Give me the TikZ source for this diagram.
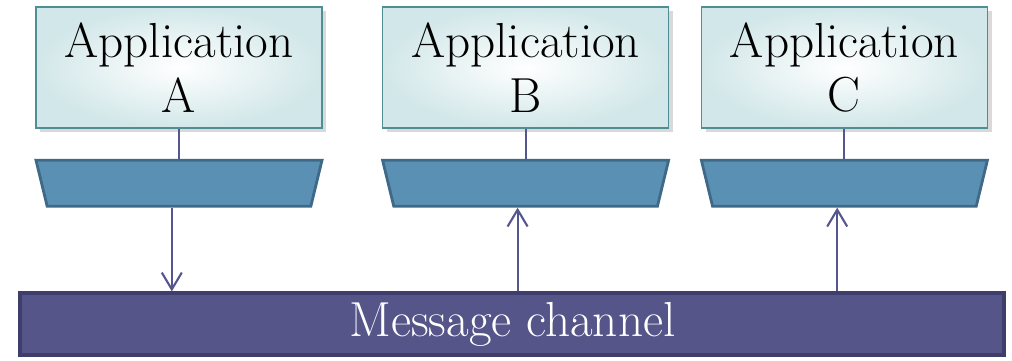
\documentclass[tikz,border=0pt]{standalone}
\usepackage{tikz}
\usetikzlibrary{positioning, arrows.meta, shapes.geometric, shadows}

\definecolor{appedge}{HTML}{4F8E94}
\definecolor{appfill}{HTML}{D2E7E9}
\definecolor{portfill}{HTML}{5B90B5}
\definecolor{portedge}{HTML}{3E6A88}
\definecolor{chanfill}{HTML}{55558A}
\definecolor{chanedge}{HTML}{3F3D6B}
\definecolor{wire}{HTML}{56568F}

\begin{document}
\begin{tikzpicture}[
            node distance=0.75cm,
            app/.style = {rectangle, draw=appedge, line width=1.2pt, inner color=white, outer color=appfill,
                          minimum width=7.15cm, minimum height=3.025cm, text width=6.8cm, align=center,
                          font=\fontsize{35}{39}\selectfont,
                          drop shadow={shadow xshift=3pt, shadow yshift=-3pt, opacity=0.3}},
            port/.style = {trapezium, shape border rotate=180, trapezium angle=40, trapezium stretches body=true,
                           draw=portedge, line width=2pt, fill=portfill, minimum width=7.15cm, minimum height=1.15cm},
            channel/.style = {rectangle, draw=chanedge, line width=2.8pt, fill=chanfill, text=white,
                              minimum width=24.6cm, minimum height=1.55cm, font=\fontsize{35}{39}\selectfont},
            link/.style = {draw=wire, line width=1.5pt},
            msg/.style = {link, -{Straight Barb[length=0.42cm, width=0.5cm, line width=1.5pt]}}
        ]
            \useasboundingbox (0,0) rectangle (25.3,-9);

            % --- applications ---
            \node [app] (appA) at (4.475,-1.6875) {Application\\A};
            \node [app] (appB) at (13.14,-1.6875) {Application\\B};
            \node [app] (appC) at (21.11,-1.6875) {Application\\C};

            % --- endpoints ---
            \node [port, below=0.75cm of appA] (portA) {};
            \node [port, below=0.75cm of appB] (portB) {};
            \node [port, below=0.75cm of appC] (portC) {};

            % --- channel ---
            \node [channel] (chan) at (12.81,-8.11) {Message channel};

            \draw [link] (appA) -- (portA);
            \draw [link] (appB) -- (portB);
            \draw [link] (appC) -- (portC);

            % A sends, B and C receive
            \draw [msg] ([xshift=-0.18cm]portA.south) -- ([xshift=-0.18cm]portA.south |- chan.north);
            \draw [msg] ([xshift=-0.2cm]portB.south |- chan.north) -- ([xshift=-0.2cm]portB.south);
            \draw [msg] ([xshift=-0.18cm]portC.south |- chan.north) -- ([xshift=-0.18cm]portC.south);

        \end{tikzpicture}
\end{document}
